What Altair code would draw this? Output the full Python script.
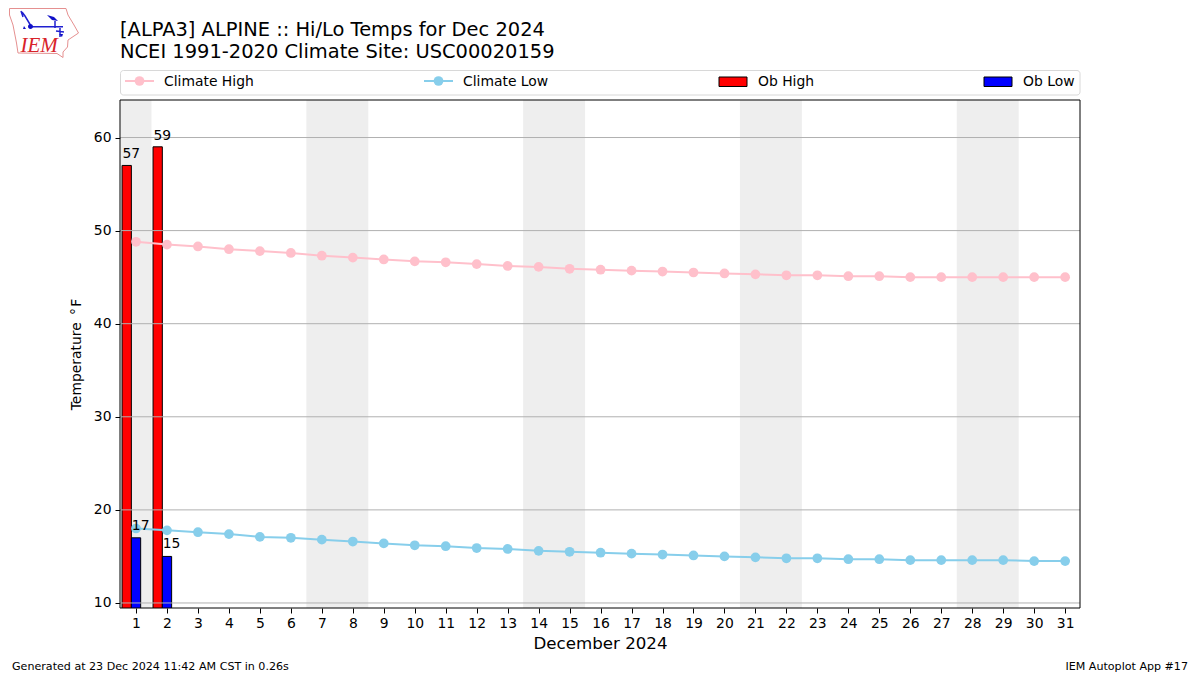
import altair as alt
import pandas as pd

# ---------- data ----------
days = list(range(1, 32))
climate_high = [48.8, 48.5, 48.3, 48.0, 47.8, 47.6, 47.3, 47.1, 46.9, 46.7, 46.6,
                46.4, 46.2, 46.1, 45.9, 45.8, 45.7, 45.6, 45.5, 45.4, 45.3, 45.2,
                45.2, 45.1, 45.1, 45.0, 45.0, 45.0, 45.0, 45.0, 45.0]
climate_low = [18.0, 17.8, 17.6, 17.4, 17.1, 17.0, 16.8, 16.6, 16.4, 16.2, 16.1,
               15.9, 15.8, 15.6, 15.5, 15.4, 15.3, 15.2, 15.1, 15.0, 14.9, 14.8,
               14.8, 14.7, 14.7, 14.6, 14.6, 14.6, 14.6, 14.5, 14.5]
ob_days = [1, 2]
ob_high = [57, 59]
ob_low = [17, 15]
band_start = [0.5, 6.5, 13.5, 20.5, 27.5]
band_end = [1.5, 8.5, 15.5, 22.5, 29.5]
y_ticks = [10, 20, 30, 40, 50, 60]

title_1 = "[ALPA3] ALPINE :: Hi/Lo Temps for Dec 2024"
title_2 = "NCEI 1991-2020 Climate Site: USC00020159"
footer_l = "Generated at 23 Dec 2024 11:42 AM CST in 0.26s"
footer_r = "IEM Autoplot App #17"

FONT = "DejaVu Sans"
X_DOMAIN = [0.483, 31.48]
Y_DOMAIN = [9.46, 64.03]
PINK = "#FFC0CB"
SKY = "#87CEEB"

xs = alt.Scale(domain=X_DOMAIN, nice=False, zero=False)
ys = alt.Scale(domain=Y_DOMAIN, nice=False, zero=False)

x_axis = alt.Axis(
    values=days, format="d", title="December 2024", titleFontSize=16.67, titleFont=FONT,
    titleFontWeight="normal", titlePadding=6, labelFont=FONT, labelFontSize=13.9, labelColor="black",
    tickColor="black", tickSize=5, labelPadding=3, grid=False, domain=False, labelFlush=False,
    labelOverlap=False, titleColor="black")
y_axis = alt.Axis(
    values=y_ticks, format="d", title="Temperature \u2009°\u200aF", titleFontSize=13.9, titleFont=FONT,
    titleFontWeight="normal", titlePadding=10, labelFont=FONT, labelFontSize=13.9, labelColor="black",
    tickColor="black", tickSize=5, labelPadding=4, grid=False, domain=False, titleColor="black")


def X(f):
    return alt.X(f, scale=xs, axis=x_axis)


def Y(f):
    return alt.Y(f, scale=ys, axis=y_axis)


def px(v):  # page x -> plot x
    return alt.value(v - 120)


def py(v):  # page y -> plot y
    return alt.value(v - 100)


one = pd.DataFrame({"a": [0]})

climate = pd.DataFrame({"day": days, "high": climate_high, "low": climate_low})
obs = pd.DataFrame({"day": ob_days, "high": ob_high, "low": ob_low})
obs["h0"] = obs["day"] - 0.45
obs["h1"] = obs["day"] - 0.15
obs["l1"] = obs["day"] + 0.15
bands = pd.DataFrame({"s": band_start, "e": band_end})
grid = pd.DataFrame({"v": y_ticks})

layers = []

# weekend bands
layers.append(alt.Chart(bands).mark_rect(color="#eeeeee", clip=True).encode(x=X("s:Q"), x2="e:Q"))

# bars
layers.append(alt.Chart(obs).mark_bar(color="red", stroke="black", strokeWidth=1, clip=True).encode(
    x=X("h0:Q"), x2="h1:Q", y=Y("high:Q"), y2=alt.value(520)))
layers.append(alt.Chart(obs).mark_bar(color="blue", stroke="black", strokeWidth=1, clip=True).encode(
    x=X("h1:Q"), x2="l1:Q", y=Y("low:Q"), y2=alt.value(520)))

# grid
layers.append(alt.Chart(grid).mark_rule(color="#b0b0b0", strokeWidth=1).encode(y=Y("v:Q")))

# climate lines
for col, colr in (("high", PINK), ("low", SKY)):
    layers.append(alt.Chart(climate).mark_line(color=colr, strokeWidth=2).encode(
        x=X("day:Q"), y=Y(f"{col}:Q")))
    layers.append(alt.Chart(climate).mark_circle(color=colr, size=95, opacity=1).encode(
        x=X("day:Q"), y=Y(f"{col}:Q")))

# value labels
layers.append(alt.Chart(obs).mark_text(font=FONT, fontSize=13.9, color="black", baseline="alphabetic",
                                       align="center", dy=-7).encode(
    x=X("h1:Q"), y=Y("high:Q"), text="high:Q"))
layers.append(alt.Chart(obs).mark_text(font=FONT, fontSize=13.9, color="black", baseline="alphabetic",
                                       align="center", dy=-8).encode(
    x=X("l1:Q"), y=Y("low:Q"), text="low:Q"))

# frame
layers.append(alt.Chart(one).mark_rect(filled=False, stroke="black", strokeWidth=1).encode(
    x=alt.value(0), x2=alt.value(960), y=alt.value(0), y2=alt.value(508)))


def label(text, x, y, size, align="left", **kw):
    return alt.Chart(one).mark_text(text=text, font=FONT, fontSize=size, color="black", align=align,
                                    baseline="alphabetic", **kw).encode(x=px(x), y=py(y))


# titles and footers
layers.append(label(title_1, 120, 36, 19.44))
layers.append(label(title_2, 120, 57.5, 19.44))
layers.append(label(footer_l, 12, 670, 11.1))
layers.append(label(footer_r, 1188, 670, 11.1, align="right"))

# legend
layers.append(alt.Chart(one).mark_rect(fill="white", stroke="#d8d8d8", strokeWidth=1, cornerRadius=3).encode(
    x=px(120.5), x2=px(1080), y=py(70.5), y2=py(95)))
for x0, colr, txt in ((125, PINK, "Climate High"), (424, SKY, "Climate Low")):
    layers.append(alt.Chart(one).mark_rule(color=colr, strokeWidth=2).encode(
        x=px(x0), x2=px(x0 + 29), y=py(81)))
    layers.append(alt.Chart(one).mark_circle(color=colr, size=95, opacity=1).encode(
        x=px(x0 + 14.5), y=py(81)))
    layers.append(label(txt, x0 + 39, 86, 13.9))
for x0, colr, txt in ((719, "red", "Ob High"), (984, "blue", "Ob Low")):
    layers.append(alt.Chart(one).mark_rect(fill=colr, stroke="black", strokeWidth=1).encode(
        x=px(x0), x2=px(x0 + 28), y=py(77), y2=py(86.5)))
    layers.append(label(txt, x0 + 39, 86, 13.9))

# logo (glyph paths drawn in page pixels from the origin; size 4 gives unit scale)
iowa = ("M9.5 8.5 L66 8.5 L68 15 L74 25 L78.5 33 L68 40 L67.5 47 L63 52 L63 57.5 L57 53.5 "
        "L18 53 L16.5 43 L13 25 L9.5 15 Z")
blue_lines = ("M22 12 L25 16 L31 26 M31 26.7 L63 26.7 M55 21 L55 28 M60 28 L60 37 M56 31 L64 32 "
              "M21 11 L23 17")
blue_fill = ("M47 15 L54 17 L58 21 L52 20 Z M28 26.5 a2.5 2.5 0 1 0 5 0 a2.5 2.5 0 1 0 -5 0 Z "
             "M23 29 L26 29 L24 26 Z M59 34 L63 34 L62 37 Z")
origin = dict(x=alt.value(-120), y=alt.value(-100))
layers.append(alt.Chart(one).mark_point(shape=iowa, size=4, filled=False, stroke="#e59090", strokeWidth=1,
                                        opacity=1).encode(**origin))
layers.append(alt.Chart(one).mark_point(shape=blue_lines, size=4, filled=False, stroke="#2020d0", strokeWidth=1.5,
                                        opacity=1).encode(**origin))
layers.append(alt.Chart(one).mark_point(shape=blue_fill, size=4, filled=True, fill="#1010c8",
                                        opacity=1).encode(**origin))
layers.append(alt.Chart(one).mark_text(text="IEM", font="Liberation Serif", fontSize=21, fontStyle="italic",
                                       color="#d8232a", align="left", baseline="alphabetic").encode(
    x=px(20.5), y=py(52)))

chart = alt.layer(*layers).resolve_scale(x="shared", y="shared").properties(
    width=960, height=508,
    padding={"left": 112, "top": 92, "right": 112, "bottom": 66},
    autosize=alt.AutoSizeParams(type="none"),
).configure_view(stroke=None)

chart.save("out.html", embed_options={"renderer": "svg", "actions": False})
